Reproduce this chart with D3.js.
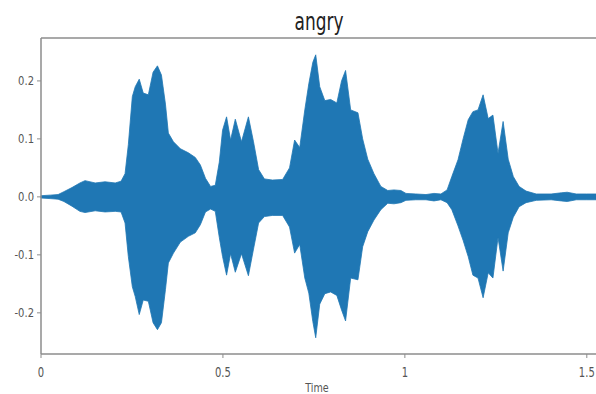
<!DOCTYPE html>
<html>
<head>
<meta charset="utf-8">
<script src="https://cdn.jsdelivr.net/npm/d3@7"></script>
<style>
  html, body { margin: 0; padding: 0; background: #fff; }
  svg { display: block; }
  text { font-family: "DejaVu Sans", sans-serif; }
</style>
</head>
<body>
<svg id="chart" width="596" height="394"></svg>
<script>
// Waveform envelope of the "angry" clip: time (s), upper and lower amplitude
const times = [0, 0.025, 0.047, 0.063, 0.085, 0.107, 0.121, 0.149, 0.176, 0.204, 0.220,
  0.231, 0.240, 0.251, 0.259, 0.270, 0.281, 0.295, 0.308, 0.320, 0.331, 0.342, 0.350,
  0.364, 0.383, 0.405, 0.424, 0.438, 0.452, 0.466, 0.479, 0.490, 0.499, 0.510, 0.521,
  0.534, 0.551, 0.570, 0.584, 0.598, 0.614, 0.636, 0.664, 0.683, 0.697, 0.711, 0.725,
  0.736, 0.747, 0.755, 0.766, 0.780, 0.796, 0.813, 0.826, 0.837, 0.851, 0.871, 0.884,
  0.898, 0.915, 0.934, 0.953, 0.970, 0.989, 1.003, 1.030, 1.058, 1.080, 1.099, 1.116,
  1.129, 1.146, 1.160, 1.174, 1.187, 1.201, 1.215, 1.229, 1.242, 1.256, 1.270, 1.284,
  1.298, 1.314, 1.333, 1.361, 1.402, 1.430, 1.446, 1.471, 1.499, 1.526];

const upper = [0.002, 0.003, 0.004, 0.009, 0.016, 0.024, 0.028, 0.024, 0.026, 0.024, 0.027,
  0.040, 0.090, 0.173, 0.190, 0.203, 0.179, 0.176, 0.215, 0.226, 0.210, 0.160, 0.110,
  0.095, 0.083, 0.076, 0.068, 0.055, 0.032, 0.018, 0.020, 0.060, 0.115, 0.138, 0.098,
  0.134, 0.095, 0.138, 0.095, 0.047, 0.031, 0.029, 0.030, 0.050, 0.098, 0.085, 0.150,
  0.195, 0.232, 0.245, 0.190, 0.166, 0.168, 0.162, 0.200, 0.218, 0.150, 0.145, 0.100,
  0.065, 0.040, 0.018, 0.011, 0.012, 0.011, 0.006, 0.005, 0.004, 0.006, 0.005, 0.012,
  0.035, 0.064, 0.100, 0.133, 0.147, 0.150, 0.176, 0.135, 0.141, 0.075, 0.130, 0.065,
  0.035, 0.018, 0.010, 0.005, 0.005, 0.007, 0.008, 0.005, 0.005, 0.005];

const lower = [-0.002, -0.003, -0.004, -0.008, -0.016, -0.025, -0.027, -0.024, -0.026, -0.025, -0.026,
  -0.045, -0.103, -0.155, -0.172, -0.203, -0.178, -0.180, -0.217, -0.229, -0.217, -0.160, -0.114,
  -0.097, -0.078, -0.068, -0.062, -0.048, -0.026, -0.021, -0.025, -0.070, -0.103, -0.135, -0.098,
  -0.130, -0.098, -0.136, -0.090, -0.045, -0.034, -0.032, -0.032, -0.052, -0.097, -0.082, -0.140,
  -0.166, -0.215, -0.243, -0.185, -0.167, -0.164, -0.170, -0.195, -0.214, -0.140, -0.143, -0.086,
  -0.060, -0.040, -0.022, -0.011, -0.012, -0.010, -0.006, -0.005, -0.005, -0.007, -0.005, -0.010,
  -0.022, -0.050, -0.075, -0.103, -0.135, -0.140, -0.174, -0.131, -0.140, -0.070, -0.128, -0.062,
  -0.035, -0.017, -0.010, -0.006, -0.005, -0.007, -0.008, -0.005, -0.005, -0.005];

const xTicks = [0, 0.5, 1, 1.5];
const xTickLabels = ["0", "0.5", "1", "1.5"];
const yTicks = [0.2, 0.1, 0.0, -0.1, -0.2];
const yTickLabels = ["0.2", "0.1", "0.0", "-0.1", "-0.2"];
const title = "angry";
const xLabel = "Time";

const svg = d3.select("#chart");
const plotLeft = 41, plotRight = 597, plotTop = 38, plotBottom = 354;

const x = d3.scaleLinear().domain([0, 1.528]).range([plotLeft, plotRight]);
const y = d3.scaleLinear().domain([-0.271, 0.274]).range([plotBottom, plotTop]);

const pts = times.map((t, i) => ({ t, hi: upper[i], lo: lower[i] }));

const area = d3.area()
  .x(d => x(d.t))
  .y0(d => y(d.lo))
  .y1(d => y(d.hi))
  .curve(d3.curveLinear);

svg.append("path")
  .datum(pts)
  .attr("d", area)
  .attr("fill", "#1f77b4")
  .attr("stroke", "#1f77b4")
  .attr("stroke-width", 0.8)
  .attr("stroke-linejoin", "round");

// frame
const spine = "#8c8c8c";
svg.append("line").attr("x1", plotLeft).attr("x2", plotLeft).attr("y1", plotTop).attr("y2", plotBottom)
  .attr("stroke", spine).attr("stroke-width", 1.5);
svg.append("line").attr("x1", plotLeft).attr("x2", plotRight).attr("y1", plotBottom).attr("y2", plotBottom)
  .attr("stroke", spine).attr("stroke-width", 1.5);
svg.append("line").attr("x1", plotLeft).attr("x2", plotRight).attr("y1", plotTop).attr("y2", plotTop)
  .attr("stroke", spine).attr("stroke-width", 1.5);

// y ticks
const yg = svg.append("g");
yTicks.forEach((v, i) => {
  yg.append("line").attr("x1", plotLeft - 4).attr("x2", plotLeft).attr("y1", y(v)).attr("y2", y(v))
    .attr("stroke", spine).attr("stroke-width", 1);
  yg.append("g").attr("transform", `translate(${plotLeft - 7},${y(v) + 4.5}) scale(0.8,1.05)`)
    .append("text").attr("text-anchor", "end").attr("font-size", 12.5)
    .attr("fill", "#555").text(yTickLabels[i]);
});

// x ticks
const xg = svg.append("g");
xTicks.forEach((v, i) => {
  xg.append("line").attr("x1", x(v)).attr("x2", x(v)).attr("y1", plotBottom).attr("y2", plotBottom + 4)
    .attr("stroke", spine).attr("stroke-width", 1);
  xg.append("g").attr("transform", `translate(${x(v)},${plotBottom + 23}) scale(0.8,1.1)`)
    .append("text").attr("text-anchor", "middle").attr("font-size", 12.5)
    .attr("fill", "#555").text(xTickLabels[i]);
});

// x label
svg.append("g").attr("transform", `translate(${(plotLeft + plotRight) / 2 - 2},${plotBottom + 38}) scale(0.8,1.0)`)
  .append("text").attr("text-anchor", "middle").attr("font-size", 12)
  .attr("fill", "#555").text(xLabel);

// title
svg.append("g").attr("transform", `translate(${(plotLeft + plotRight) / 2},${30}) scale(0.85,1.25)`)
  .append("text").attr("text-anchor", "middle").attr("font-size", 20)
  .attr("fill", "#222").text(title);
</script>
</body>
</html>
